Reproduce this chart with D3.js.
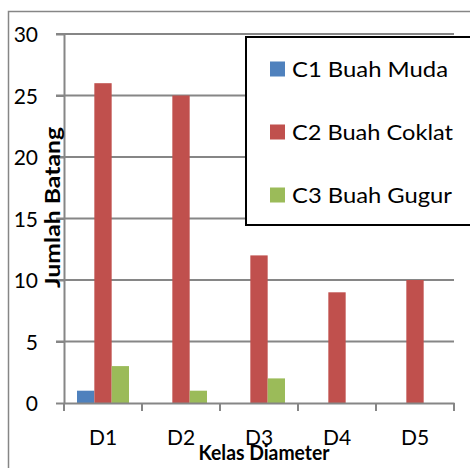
<!DOCTYPE html>
<html><head><meta charset="utf-8">
<script src="https://cdn.jsdelivr.net/npm/d3@7"></script>
<style>body{margin:0;background:#fff}svg{display:block}text{font-family:Lato,"Noto Sans",sans-serif;fill:#000}</style>
</head><body>
<svg id="c" width="470" height="468"></svg>
<script>
const categories = ["D1","D2","D3","D4","D5"];
const seriesNames = ["C1 Buah Muda","C2 Buah Coklat","C3 Buah Gugur"];
const c1Values = [1,0,0,0,0];
const c2Values = [26,25,12,9,10];
const c3Values = [3,1,2,0,0];
const yTicks = [0,5,10,15,20,25,30];
const colors = ["#4F81BD","#C0504D","#9BBB59"];
const seriesValues = [c1Values,c2Values,c3Values];
const legendWidths = [156,161,160];

const svg = d3.select("#c");
const L = 64, R = 454, T = 34, B = 403;

// outer chart border
svg.append("rect").attr("x",8.5).attr("y",11.5).attr("width",480).attr("height",480)
  .attr("fill","#fff").attr("stroke","#868686").attr("stroke-width",1.5);

const x = d3.scaleBand().domain(categories).range([L,R]);
const xs = d3.scaleBand().domain(d3.range(3)).range([0,x.bandwidth()]).paddingInner(0).paddingOuter(0.75);
const y = d3.scaleLinear().domain([0,30]).range([B,T]);

// gridlines
svg.append("g").selectAll("line").data(yTicks.filter(d=>d>0)).join("line")
  .attr("x1",L-8).attr("x2",R).attr("y1",d=>y(d)).attr("y2",d=>y(d))
  .attr("stroke","#868686").attr("stroke-width",2);

// y axis
const ya = svg.append("g").attr("transform",`translate(${L},0)`)
  .call(d3.axisLeft(y).tickValues(yTicks).tickSize(8).tickPadding(18).tickSizeOuter(0));
ya.select(".domain").attr("stroke","#868686").attr("stroke-width",2);
ya.selectAll(".tick line").attr("stroke","#868686").attr("stroke-width",2);
ya.selectAll(".tick text").attr("font-size",21).attr("font-family","Lato").attr("dy","0.36em");

// bars
seriesValues.forEach((vals,si)=>{
  svg.append("g").selectAll("rect").data(categories.map((c,i)=>({c,v:vals[i]})).filter(d=>d.v>0)).join("rect")
    .attr("x",d=>x(d.c)+xs(si)).attr("width",xs.bandwidth())
    .attr("y",d=>y(d.v)).attr("height",d=>y(0)-y(d.v)).attr("fill",colors[si]);
});

// x axis
const xa = svg.append("g").attr("transform",`translate(0,${B})`)
  .call(d3.axisBottom(x).tickSize(0).tickPadding(27).tickSizeOuter(0));
xa.select(".domain").attr("stroke","#868686").attr("stroke-width",2);
xa.selectAll(".tick text").attr("font-size",21).attr("font-family","Lato");
// category boundary ticks
const bounds = categories.map(c=>x(c)).concat([R]);
svg.append("g").selectAll("line").data(bounds).join("line")
  .attr("x1",d=>d).attr("x2",d=>d).attr("y1",B).attr("y2",B+8)
  .attr("stroke","#868686").attr("stroke-width",2);

// axis titles
svg.append("text").attr("x",264).attr("y",460).attr("text-anchor","middle")
  .attr("font-size",21).attr("font-weight","bold")
  .attr("textLength",131).attr("lengthAdjust","spacingAndGlyphs").text("Kelas Diameter");
svg.append("text").attr("transform","translate(60,207.5) rotate(-90)").attr("text-anchor","middle")
  .attr("font-size",21).attr("font-weight","bold")
  .attr("textLength",161).attr("lengthAdjust","spacingAndGlyphs").text("Jumlah Batang");

// legend
const lg = svg.append("g");
lg.append("rect").attr("x",246).attr("y",37).attr("width",240).attr("height",188)
  .attr("fill","#fff").attr("stroke","#000").attr("stroke-width",2);
seriesNames.forEach((n,i)=>{
  const cy = 69 + i*63;
  lg.append("rect").attr("x",270).attr("y",cy-7.5).attr("width",15).attr("height",15).attr("fill",colors[i]);
  lg.append("text").attr("x",292).attr("y",cy+8).attr("font-size",21)
    .attr("textLength",legendWidths[i]).attr("lengthAdjust","spacingAndGlyphs").text(n);
});
</script>
</body></html>
